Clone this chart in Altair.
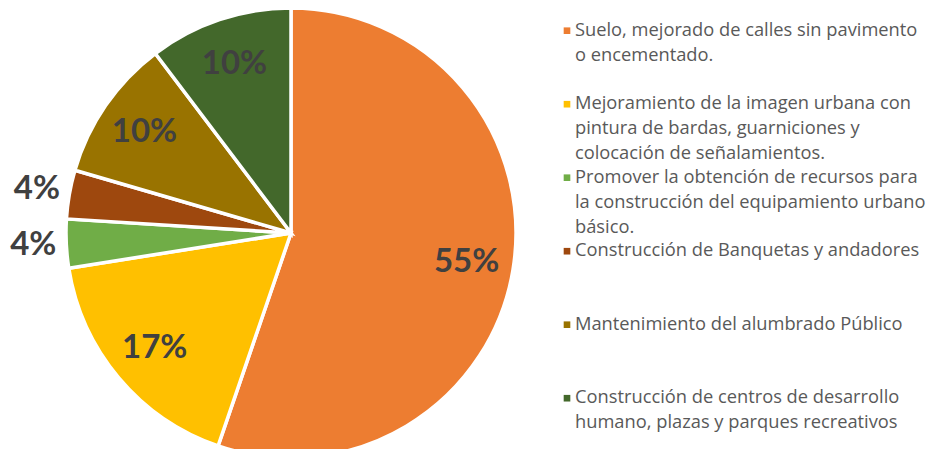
import altair as alt
import pandas as pd

categories = [
    "Suelo, mejorado de calles sin pavimento\no encementado.",
    "Mejoramiento de la imagen urbana con\npintura de bardas, guarniciones y\ncolocación de señalamientos.",
    "Promover la obtención de recursos para\nla construcción del equipamiento urbano\nbásico.",
    "Construcción de Banquetas y andadores",
    "Mantenimiento del alumbrado Público",
    "Construcción de centros de desarrollo\nhumano, plazas y parques recreativos",
]
values = [55.25, 17.25, 3.5, 3.5, 10.2, 10.3]
labels = ["55%", "17%", "4%", "4%", "10%", "10%"]
colors = ["#ED7D31", "#FFC000", "#70AD47", "#9E480E", "#997300", "#43682B"]

df = pd.DataFrame({
    "cat": categories,
    "value": values,
    "label": labels,
    "idx": list(range(len(categories))),
})

color_scale = alt.Scale(domain=categories, range=colors)
theta_scale = alt.Scale(domain=[0, 100])

arcs = alt.Chart(df).mark_arc(outerRadius=225, stroke="white", strokeWidth=3.5, clip=True).encode(
    theta=alt.Theta("value:Q", stack=True, scale=theta_scale),
    order=alt.Order("idx:Q", sort="ascending"),
    color=alt.Color("cat:N", scale=color_scale, legend=None),
    x=alt.value(283),
    y=alt.value(225),
)

pct = alt.Chart(df).transform_window(
    cum="sum(value)", sort=[alt.SortField("idx", order="ascending")]
).transform_calculate(
    mid="datum.cum - datum.value / 2",
    r="datum.value < 5 ? 258 : 178",
).mark_text(font="Lato", fontWeight="bold", fontSize=33, color="#404040").encode(
    theta=alt.Theta("mid:Q", stack=None, scale=theta_scale),
    radius=alt.Radius("r:Q", scale=None),
    text=alt.Text("label:N"),
    x=alt.value(283),
    y=alt.value(225),
)

pie = alt.layer(arcs, pct).properties(width=552, height=441)

ypos = alt.Y("cat:N", sort=categories, axis=None,
             scale=alt.Scale(type="point", padding=0.5, align=0.309))

squares = alt.Chart(df).mark_square(size=44, opacity=1).encode(
    y=ypos,
    x=alt.value(7),
    color=alt.Color("cat:N", scale=color_scale, legend=None),
)

texts = alt.Chart(df).mark_text(
    font="Open Sans", fontSize=18.3, color="#595959", align="left",
    baseline="middle", lineBreak="\n", lineHeight=25,
).encode(
    y=ypos,
    x=alt.value(15),
    text="cat:N",
)

legend = alt.layer(squares, texts).properties(width=360, height=441)

chart = alt.hconcat(pie, legend, spacing=0).properties(
    padding=0
).configure_view(stroke=None)

chart.save("out.html", embed_options={"renderer": "svg", "actions": False})
